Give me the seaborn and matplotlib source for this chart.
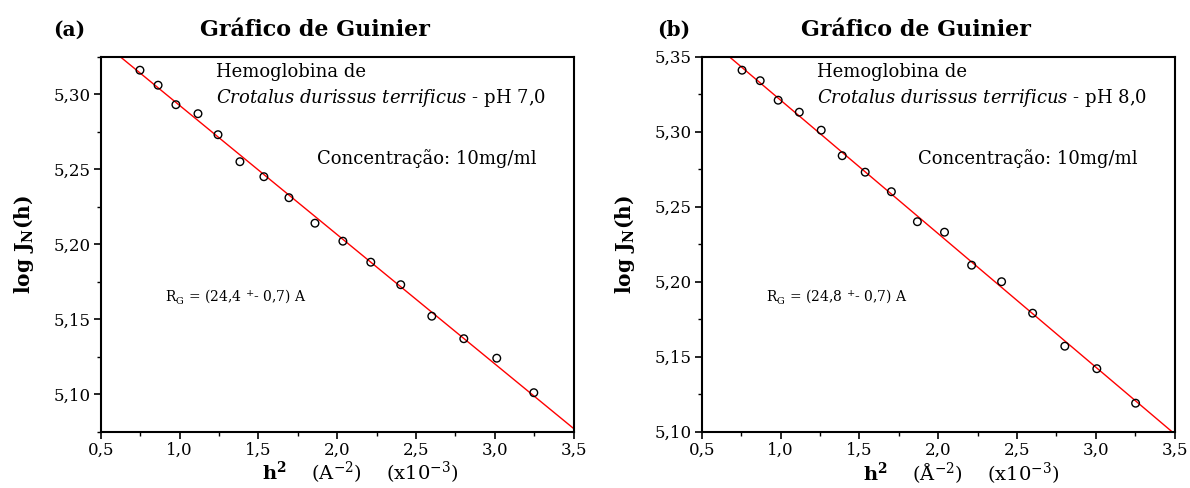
import numpy as np
import pandas as pd
import matplotlib
matplotlib.use("Agg")
import matplotlib.pyplot as plt
import seaborn as sns
from matplotlib.ticker import FuncFormatter, MultipleLocator

# Guinier data: h^2 (x10^-3 A^-2) and log J_N(h)
h2_a = [0.749, 0.864, 0.977, 1.117, 1.244, 1.383, 1.535, 1.694,
        1.859, 2.036, 2.213, 2.403, 2.600, 2.803, 3.012, 3.247]
logj_a = [5.316, 5.306, 5.293, 5.287, 5.273, 5.255, 5.245, 5.231,
          5.214, 5.202, 5.188, 5.173, 5.152, 5.137, 5.124, 5.101]

h2_b = [0.756, 0.871, 0.985, 1.119, 1.258, 1.391, 1.537, 1.703,
        1.868, 2.040, 2.212, 2.402, 2.599, 2.803, 3.006, 3.252]
logj_b = [5.341, 5.334, 5.321, 5.313, 5.301, 5.284, 5.273, 5.260,
          5.240, 5.233, 5.211, 5.200, 5.179, 5.157, 5.142, 5.119]

# radius of gyration (A) and its uncertainty
rg_a, rg_err_a = 24.4, 0.7
rg_b, rg_err_b = 24.8, 0.7
ph_a, ph_b = "7,0", "8,0"

sns.set_style("ticks")
plt.rcParams["font.family"] = ["DejaVu Serif"]
plt.rcParams["mathtext.fontset"] = "dejavuserif"
for key in ("text.color", "axes.labelcolor", "xtick.color", "ytick.color",
            "xtick.labelcolor", "ytick.labelcolor"):
    plt.rcParams[key] = "black"

W, H = 1190, 488
AX_W, AX_H = 473, 375
fig = plt.figure(figsize=(W / 100, H / 100), dpi=100)


def px(x, y):
    return x / W, 1 - y / H


def comma(fmt):
    return FuncFormatter(lambda v, p: (fmt % v).replace(".", ","))


def panel(left, h2, logj, rg, rg_err, ph, ylim, letter, ang, letter_dx):
    ax = fig.add_axes([left / W, (H - 431.7) / H, AX_W / W, AX_H / H])
    ox = left - 100.7
    df = pd.DataFrame({"h2": h2, "logj": logj})
    # Guinier slope: log10 I = log10 I0 - Rg^2 q^2 / (3 ln 10), q^2 in units of 1e-3
    slope = -(rg ** 2) / (3 * np.log(10)) * 1e-3
    icpt = df["logj"].mean() - slope * df["h2"].mean()
    fit = pd.DataFrame({"h2": [0.5, 3.5]})
    fit["logj"] = icpt + slope * fit["h2"]
    sns.lineplot(data=fit, x="h2", y="logj", color="red", lw=1.0, ax=ax)
    sns.scatterplot(data=df, x="h2", y="logj", marker="o", s=30,
                    facecolor="none", edgecolor="black", linewidth=1.0,
                    ax=ax, zorder=3)
    ax.set_xlim(0.5, 3.5)
    ax.set_ylim(*ylim)
    ax.xaxis.set_major_locator(MultipleLocator(0.5))
    ax.xaxis.set_minor_locator(MultipleLocator(0.25))
    ax.yaxis.set_major_locator(MultipleLocator(0.05))
    ax.yaxis.set_minor_locator(MultipleLocator(0.025))
    ax.xaxis.set_major_formatter(comma("%.1f"))
    ax.yaxis.set_major_formatter(comma("%.2f"))
    ax.tick_params(which="major", direction="out", length=5, width=1.2,
                   labelsize=12, top=False, right=False, pad=2)
    ax.tick_params(which="minor", direction="out", length=3, width=1.0,
                   top=False, right=False)
    for s in ax.spines.values():
        s.set_visible(True)
        s.set_linewidth(1.5)
        s.set_color("black")
    ax.set_xlabel(r"$\mathbf{h^2}$    (" + ang + r"$^{-2}$)    (x10$^{-3}$)",
                  fontsize=14, labelpad=0)
    ax.xaxis.set_label_coords(0.548, -0.075, transform=ax.transAxes)
    ax.xaxis.label.set_va("top")
    ax.set_ylabel(r"log J$_{\mathbf{N}}$(h)", fontsize=14.5, fontweight="bold")
    ax.yaxis.set_label_coords(-65 / AX_W, 0.5)

    fig.text(*px(left - 32 + letter_dx, 30), f"({letter})", fontsize=14.5,
             fontweight="bold", ha="center", va="center")
    fig.text(*px(ox + 315, 30), "Gráfico de Guinier", fontsize=16,
             fontweight="bold", ha="center", va="center")
    fig.text(*px(ox + 216, 72), "Hemoglobina de", fontsize=13,
             ha="left", va="center")
    fig.text(*px(ox + 216, 98),
             r"$\it{Crotalus\ durissus\ terrificus}$ - pH " + ph,
             fontsize=13, ha="left", va="center")
    fig.text(*px(ox + 317, 159), "Concentração: 10mg/ml", fontsize=13,
             ha="left", va="center")
    rg_txt = f"{rg:.1f}".replace(".", ",")
    err_txt = f"{rg_err:.1f}".replace(".", ",")
    fig.text(*px(ox + 165, 297),
             r"R$_{\mathregular{G}}$ = (" + rg_txt + r" $^{+}$- " + err_txt + ") A",
             fontsize=10, ha="left", va="center")
    return ax


panel(100.7, h2_a, logj_a, rg_a, rg_err_a, ph_a, (5.075, 5.325), "a", "A", 0)
panel(701.7, h2_b, logj_b, rg_b, rg_err_b, ph_b, (5.10, 5.35), "b", "Å", 4)

fig.savefig("out.png", dpi=100)
